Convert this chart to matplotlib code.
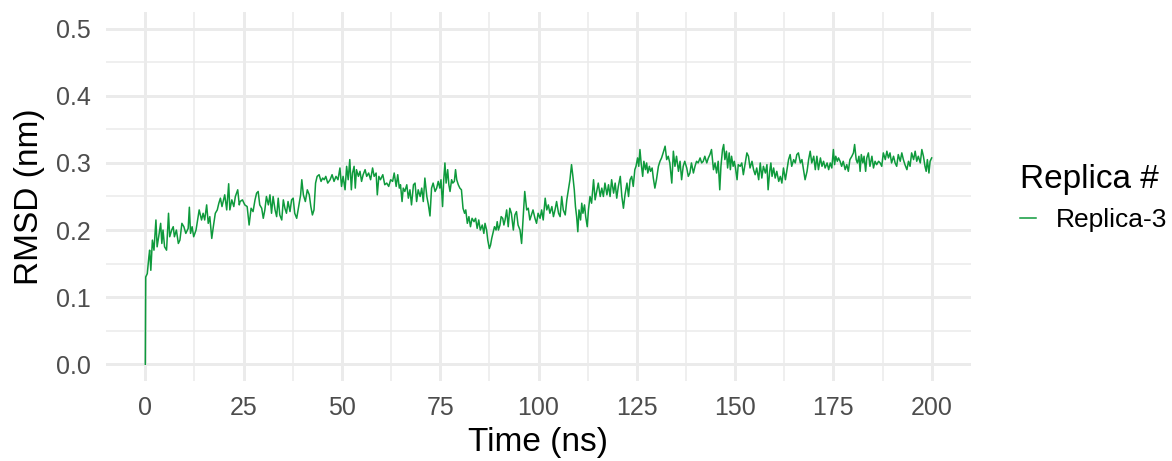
import matplotlib
matplotlib.use("Agg")
import matplotlib.pyplot as plt
from matplotlib.ticker import MultipleLocator

time_ns = [
    0.0, 0.1, 0.5, 0.9, 1.1, 1.4, 1.8, 2.2, 2.7, 3.0, 3.4, 3.9, 4.2, 4.5, 4.9, 5.4, 5.9, 6.2, 6.7, 7.1,
    7.4, 7.9, 8.4, 8.8, 9.3, 9.8, 10.3, 10.9, 11.2, 11.5, 11.9, 12.3, 12.9, 13.3, 13.7, 14.3, 14.7, 15.1,
    15.6, 16.0, 16.4, 16.9, 17.3, 17.8, 18.3, 18.7, 19.1, 19.5, 19.8, 20.2, 20.7, 21.2, 21.5, 22.0, 22.5,
    22.9, 23.5, 23.9,
    24.1, 24.7, 25.3, 25.9, 26.4, 26.9, 27.4, 27.9, 28.3, 28.7, 29.1, 29.6, 30.0, 30.4, 30.8, 31.3, 31.7,
    32.1, 32.5, 33.0, 33.4, 33.8, 34.2, 34.7, 35.1, 35.5, 35.9, 36.3, 36.8, 37.2, 37.6, 38.0, 38.5, 39.0,
    39.5, 39.8, 40.2, 40.7, 41.2, 41.7, 42.1, 42.5, 42.9, 43.3, 43.7, 44.2, 44.7, 45.1, 45.5, 45.9, 46.4,
    47.0, 47.5, 48.0, 48.5, 49.0,
    49.5, 49.9, 50.3, 50.8, 51.2, 51.6, 52.0, 52.4, 52.7, 53.1, 53.4, 53.7, 54.2, 54.6, 55.0, 55.4, 55.9,
    56.3, 56.8, 57.3, 57.8, 58.2, 58.7, 59.0, 59.4, 59.8, 60.4, 60.9, 61.4, 61.9, 62.4, 62.9, 63.3, 63.8,
    64.2, 64.6, 64.9, 65.3, 65.6, 66.0, 66.5, 66.9, 67.3, 67.7, 68.2, 68.6, 69.0, 69.4, 69.9, 70.3, 70.7,
    71.1, 71.6, 72.0, 72.4, 72.8, 73.2, 73.7, 74.1, 74.5,
    74.9, 75.2, 75.6, 75.9, 76.2, 76.5, 76.9, 77.2, 77.5, 77.9, 78.2, 78.6, 78.9, 79.2, 79.6, 80.0, 80.4,
    80.8, 81.2, 81.5, 81.9, 82.3, 82.7, 83.1, 83.6, 84.0, 84.4, 84.8, 85.2, 85.7, 86.1, 86.4, 86.8, 87.1,
    87.5, 87.8, 88.1, 88.5, 88.8, 89.2, 89.5, 89.8, 90.2, 90.5, 90.9, 91.2, 91.5, 91.9, 92.3, 92.7, 93.1,
    93.6, 94.0, 94.4, 94.8, 95.3, 95.7, 96.1, 96.5, 97.0, 97.4, 97.8, 98.2, 98.6, 99.1, 99.5, 99.9,
    100.4, 100.8, 101.2, 101.7, 102.1, 102.5, 102.9, 103.4, 103.8, 104.2, 104.6, 105.1, 105.5, 105.9,
    106.3, 106.8, 107.2, 107.6, 108.0, 108.4, 108.7, 109.1, 109.4, 109.7, 110.0, 110.3, 110.7, 111.0,
    111.3, 111.7, 112.0, 112.4, 112.7, 113.1, 113.5, 114.0, 114.4, 114.8, 115.2, 115.7, 116.1, 116.5,
    116.9, 117.4, 117.8, 118.2, 118.6, 119.1, 119.5, 119.9, 120.3, 120.8, 121.2, 121.6, 122.0, 122.5,
    122.9, 123.3, 123.7, 124.1, 124.5, 124.8, 125.2, 125.5,
    125.8, 126.1, 126.5, 126.8, 127.2, 127.5, 127.8, 128.2, 128.5, 128.9, 129.2, 129.6, 130.0, 130.5,
    130.9, 131.3, 131.7, 132.2, 132.6, 133.0, 133.4, 133.9, 134.3, 134.7, 135.1, 135.6, 136.0, 136.4,
    136.8, 137.2, 137.7, 138.1, 138.5, 138.9, 139.4, 139.8, 140.2, 140.6, 141.1, 141.5, 141.9, 142.3,
    142.8, 143.2, 143.6, 144.0, 144.5, 144.9, 145.3, 145.7, 146.1, 146.4, 146.8, 147.1, 147.4, 147.8,
    148.1, 148.5, 148.8, 149.1, 149.5, 149.8, 150.1, 150.5, 150.8,
    151.3, 151.7, 152.1, 152.6, 153.0, 153.4, 153.8, 154.3, 154.7, 155.1, 155.5, 156.0, 156.4, 156.8,
    157.2, 157.7, 158.1, 158.4, 158.8, 159.1, 159.4, 159.8, 160.2, 160.6, 161.1, 161.5, 161.9, 162.3,
    162.8, 163.2, 163.6, 164.0, 164.4, 164.9, 165.3, 165.7, 166.1, 166.6, 167.0, 167.4, 167.8, 168.3,
    168.7, 169.1, 169.5, 170.0, 170.4, 170.8, 171.2, 171.7, 172.1, 172.5, 172.9, 173.4, 173.8, 174.2,
    174.6, 175.0, 175.3, 175.6, 176.0, 176.3,
    176.7, 177.1, 177.5, 178.0, 178.4, 178.8, 179.2, 179.7, 180.1, 180.4, 180.8, 181.1, 181.5, 181.8,
    182.1, 182.5, 182.8, 183.2, 183.5, 183.9, 184.3, 184.8, 185.2, 185.6, 186.0, 186.5, 186.9, 187.3,
    187.7, 188.2, 188.6, 189.0, 189.4, 189.8, 190.3, 190.7, 191.1, 191.5, 192.0, 192.4, 192.8, 193.2,
    193.7, 194.1, 194.5, 194.9, 195.4, 195.8, 196.2, 196.6, 197.1, 197.5, 197.9, 198.3, 198.6, 198.9,
    199.3, 199.6, 200.0,
]

rmsd_nm = [
    0.0, 0.13, 0.135, 0.16, 0.17, 0.14, 0.185, 0.17, 0.215, 0.175, 0.19, 0.21, 0.18, 0.2, 0.175, 0.17,
    0.225, 0.19, 0.2, 0.205, 0.19, 0.2, 0.18, 0.185, 0.21, 0.205, 0.195, 0.2025, 0.234, 0.195, 0.205,
    0.19, 0.2, 0.215, 0.23, 0.215, 0.225, 0.215, 0.2375, 0.21, 0.22, 0.1875, 0.205, 0.225, 0.23, 0.24,
    0.2475, 0.235, 0.2425, 0.2525, 0.23, 0.269, 0.23, 0.245, 0.235, 0.25, 0.26, 0.2375,
    0.2425, 0.245, 0.2375, 0.235, 0.2075, 0.2325, 0.2275, 0.245, 0.255, 0.2575, 0.2375, 0.2325, 0.2175,
    0.23, 0.25, 0.2375, 0.2525, 0.225, 0.25, 0.23, 0.22, 0.2475, 0.2225, 0.215, 0.245, 0.2325, 0.225,
    0.2425, 0.2275, 0.245, 0.2475, 0.225, 0.2175, 0.235, 0.2525, 0.275, 0.2525, 0.2425, 0.26, 0.2525,
    0.235, 0.2225, 0.23, 0.27, 0.28, 0.2825, 0.2725, 0.2775, 0.275, 0.28, 0.27, 0.275, 0.2825, 0.2725,
    0.28, 0.275,
    0.2925, 0.265, 0.28, 0.26, 0.295, 0.275, 0.305, 0.26, 0.285, 0.295, 0.2625, 0.29, 0.28, 0.2875,
    0.2725, 0.2825, 0.29, 0.28, 0.285, 0.275, 0.2925, 0.28, 0.285, 0.2525, 0.28, 0.275, 0.2825, 0.2675,
    0.27, 0.265, 0.275, 0.2725, 0.285, 0.265, 0.2825, 0.2625, 0.2675, 0.2425, 0.2625, 0.2575, 0.2675,
    0.2475, 0.26, 0.2375, 0.2675, 0.27, 0.2425, 0.26, 0.25, 0.2625, 0.2425, 0.2775, 0.25, 0.2375, 0.221,
    0.2625, 0.27, 0.2575, 0.2625, 0.2725,
    0.2625, 0.275, 0.235, 0.275, 0.3, 0.27, 0.29, 0.2675, 0.2575, 0.275, 0.27, 0.2725, 0.29, 0.275,
    0.2675, 0.2625, 0.26, 0.2325, 0.225, 0.23, 0.21, 0.22, 0.205, 0.2175, 0.2125, 0.2175, 0.2025, 0.215,
    0.2, 0.2075, 0.195, 0.21, 0.2, 0.185, 0.1725, 0.1775, 0.1875, 0.1975, 0.205, 0.2, 0.2125, 0.2,
    0.2075, 0.22, 0.2175, 0.2075, 0.215, 0.23, 0.205, 0.2325, 0.225, 0.2, 0.2225, 0.2275, 0.2075, 0.2,
    0.18, 0.22, 0.2575, 0.23, 0.2325, 0.215, 0.2225, 0.23, 0.2175, 0.21, 0.225,
    0.2175, 0.23, 0.215, 0.2475, 0.23, 0.2375, 0.225, 0.235, 0.22, 0.23, 0.2425, 0.225, 0.22, 0.25,
    0.23, 0.2225, 0.245, 0.26, 0.275, 0.2975, 0.2825, 0.26, 0.235, 0.22, 0.1975, 0.23, 0.215, 0.24,
    0.225, 0.2375, 0.22, 0.205, 0.23, 0.25, 0.24, 0.275, 0.245, 0.2575, 0.27, 0.25, 0.2625, 0.25, 0.27,
    0.2525, 0.2675, 0.25, 0.275, 0.255, 0.27, 0.2475, 0.265, 0.28, 0.25, 0.2325, 0.2525, 0.27, 0.25,
    0.275, 0.28, 0.265, 0.29, 0.295, 0.3075, 0.295,
    0.32, 0.3, 0.28, 0.3025, 0.29, 0.3, 0.285, 0.295, 0.2875, 0.2925, 0.2775, 0.2625, 0.275, 0.295,
    0.3025, 0.3075, 0.315, 0.325, 0.305, 0.31, 0.3, 0.27, 0.3175, 0.295, 0.31, 0.2875, 0.3025, 0.275,
    0.295, 0.3025, 0.2925, 0.28, 0.285, 0.3, 0.285, 0.295, 0.3025, 0.3, 0.3075, 0.3, 0.3025, 0.31, 0.3,
    0.3075, 0.3125, 0.32, 0.29, 0.3, 0.285, 0.3025, 0.26, 0.295, 0.32, 0.3275, 0.305, 0.3175, 0.2925,
    0.315, 0.29, 0.31, 0.295, 0.3025, 0.2925, 0.275, 0.2975,
    0.295, 0.3, 0.2825, 0.3, 0.315, 0.31, 0.2925, 0.3025, 0.29, 0.2825, 0.2925, 0.275, 0.3, 0.2775,
    0.295, 0.285, 0.2975, 0.26, 0.2875, 0.3, 0.28, 0.2925, 0.2775, 0.2875, 0.2725, 0.28, 0.27, 0.2925,
    0.275, 0.29, 0.305, 0.3125, 0.295, 0.305, 0.3, 0.3125, 0.315, 0.3, 0.305, 0.29, 0.275, 0.2875,
    0.305, 0.3175, 0.3, 0.31, 0.29, 0.31, 0.29, 0.3075, 0.295, 0.3025, 0.2925, 0.3, 0.29, 0.3, 0.2925,
    0.32, 0.2975, 0.31, 0.3025, 0.3075,
    0.3025, 0.295, 0.3025, 0.29, 0.2975, 0.2875, 0.305, 0.31, 0.315, 0.3275, 0.305, 0.3, 0.31, 0.2875,
    0.3125, 0.3, 0.31, 0.2875, 0.3075, 0.315, 0.295, 0.31, 0.2925, 0.3025, 0.2975, 0.3025, 0.3, 0.295,
    0.315, 0.305, 0.3175, 0.3075, 0.315, 0.3, 0.31, 0.3, 0.295, 0.3125, 0.3025, 0.315, 0.305, 0.2975,
    0.29, 0.3025, 0.295, 0.315, 0.305, 0.3175, 0.3025, 0.31, 0.3, 0.32, 0.31, 0.295, 0.2875, 0.305,
    0.285, 0.3025, 0.3075,
]

series_name = "Replica-3"
legend_title = "Replica #"
x_label = "Time (ns)"
y_label = "RMSD (nm)"
x_ticks = [0, 25, 50, 75, 100, 125, 150, 175, 200]
y_ticks = [0.0, 0.1, 0.2, 0.3, 0.4, 0.5]

plt.rcParams["font.family"] = ["Liberation Sans", "DejaVu Sans"]

W, H = 1172, 461
fig = plt.figure(figsize=(W / 100, H / 100), dpi=100)
left, right, top, bottom = 106, 971, 12, 381
ax = fig.add_axes([left / W, 1 - bottom / H, (right - left) / W, (bottom - top) / H])

grid_col = "#EBEBEB"
ax.set_xlim(-10, 210)
ax.set_ylim(-0.025, 0.525)
ax.set_xticks(x_ticks)
ax.set_yticks(y_ticks)
ax.set_yticklabels([f"{v:.1f}" for v in y_ticks])
ax.xaxis.set_minor_locator(MultipleLocator(12.5))
ax.yaxis.set_minor_locator(MultipleLocator(0.05))
ax.grid(which="major", color=grid_col, linewidth=2.1)
ax.grid(which="minor", color=grid_col, linewidth=1.1)
ax.set_axisbelow(True)
for s in ax.spines.values():
    s.set_visible(False)
ax.tick_params(which="both", length=0)
ax.tick_params(axis="both", labelsize=18, labelcolor="#4D4D4D")
ax.tick_params(axis="y", pad=11)
ax.tick_params(axis="x", pad=11)

ax.plot(time_ns, rmsd_nm, color="#0E9A3C", linewidth=1.1, label=series_name)

ax.set_xlabel(x_label, fontsize=24, color="black", labelpad=5)
ax.set_ylabel(y_label, fontsize=24, color="black", labelpad=8)

leg = fig.legend(loc="upper left", bbox_to_anchor=(1015 / W, 1 - 159 / H), frameon=False,
                 title=legend_title, title_fontsize=24, fontsize=19, handlelength=0.6,
                 handletextpad=0.75, borderaxespad=0, borderpad=0.2)
leg._legend_box.align = "left"

fig.savefig("out.png", dpi=100, facecolor="white")
